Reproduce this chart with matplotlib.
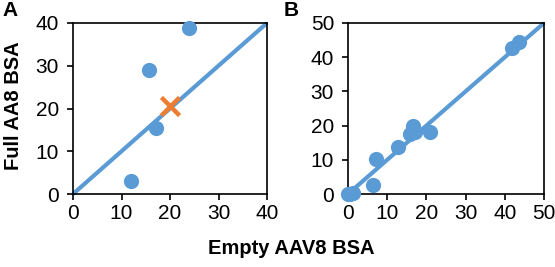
import matplotlib
matplotlib.use("Agg")
import matplotlib.pyplot as plt

plt.rcParams['font.family'] = ['Liberation Sans', 'DejaVu Sans']

# panel A data
a_x = [12.0, 15.7, 17.2, 24.0]
a_y = [3.0, 29.0, 15.5, 38.8]
a_mean_x = [20.0]
a_mean_y = [20.7]
a_lim = 40
a_ticks = [0, 10, 20, 30, 40]

# panel B data
b_x = [0.0, 0.5, 1.2, 6.5, 7.2, 12.8, 15.8, 16.5, 17.2, 20.8, 41.8, 43.5]
b_y = [0.0, 0.0, 0.2, 2.5, 10.3, 13.8, 17.5, 19.8, 18.0, 18.2, 42.8, 44.5]
b_lim = 50
b_ticks = [0, 10, 20, 30, 40, 50]

blue = '#5B9BD5'
orange = '#ED7D31'

fig = plt.figure(figsize=(5.55, 2.67), dpi=100)
W, H = 555.0, 267.0
axA = fig.add_axes([73 / W, 1 - 194 / H, (267 - 73) / W, (194 - 23) / H])
axB = fig.add_axes([348 / W, 1 - 194 / H, (544 - 348) / W, (194 - 23) / H])

def style(ax, lim, ticks):
    ax.set_xlim(0, lim)
    ax.set_ylim(0, lim)
    ax.set_xticks(ticks)
    ax.set_yticks(ticks)
    ax.tick_params(direction='out', length=4, width=1.2, labelsize=15,
                   top=False, right=False)
    ax.tick_params(axis='x', pad=3)
    ax.tick_params(axis='y', pad=6)
    for s in ax.spines.values():
        s.set_linewidth(1.2)
        s.set_color('black')

axA.plot([0, a_lim], [0, a_lim], color=blue, lw=3, zorder=2, clip_on=False, solid_capstyle='butt')
axA.scatter(a_x, a_y, s=120, color=blue, zorder=3, clip_on=False, linewidths=0)
axA.scatter(a_mean_x, a_mean_y, s=170, marker='x', color=orange, linewidths=3.2, zorder=4)
style(axA, a_lim, a_ticks)

axB.plot([0, b_lim], [0, b_lim], color=blue, lw=3, zorder=2, clip_on=False, solid_capstyle='butt')
axB.scatter(b_x, b_y, s=120, color=blue, zorder=3, clip_on=False, linewidths=0)
style(axB, b_lim, b_ticks)

fig.text(14 / W, 1 - 106 / H, 'Full AA8 BSA', ha='center', va='center', rotation=90,
         fontsize=14.5, fontweight='bold')
fig.text(291 / W, 1 - 248 / H, 'Empty AAV8 BSA', ha='center', va='center',
         fontsize=14.5, fontweight='bold')

fig.text(2 / W, 1 - 1 / H, 'A', ha='left', va='top', fontsize=15, fontweight='bold')
fig.text(284 / W, 1 - 1 / H, 'B', ha='left', va='top', fontsize=15, fontweight='bold')

fig.savefig('out.png', dpi=100)
